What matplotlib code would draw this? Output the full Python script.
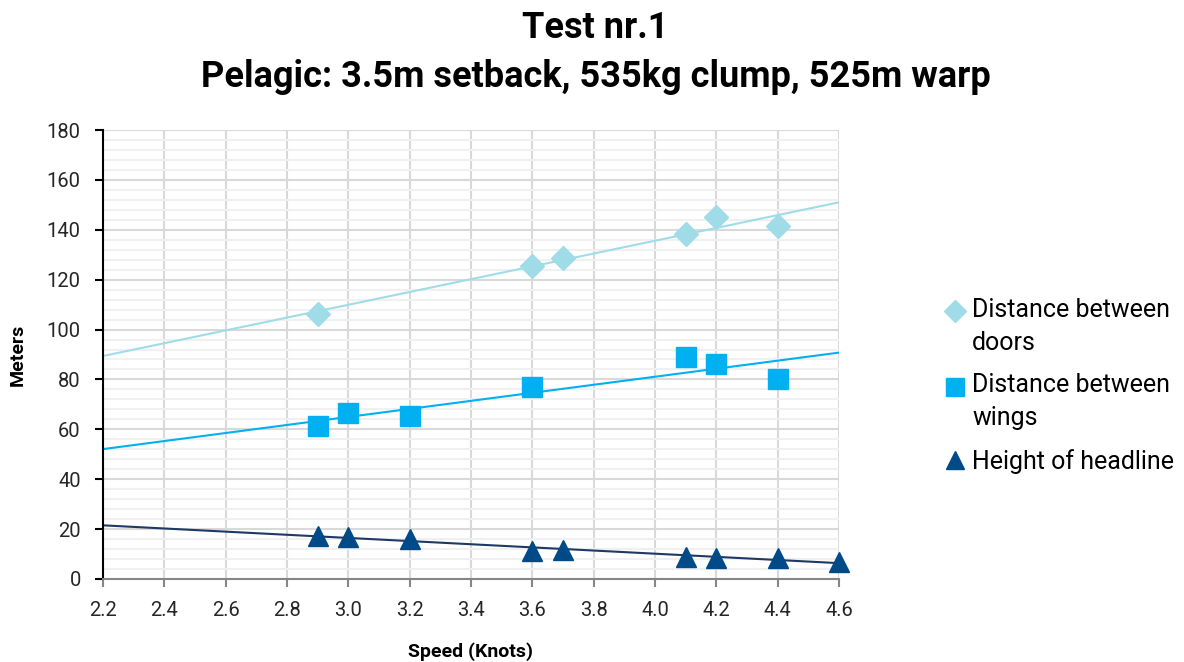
import numpy as np
import matplotlib

matplotlib.use("Agg")
import matplotlib.pyplot as plt  # noqa: E402
from matplotlib.legend_handler import HandlerLine2D  # noqa: E402
from matplotlib.ticker import MultipleLocator  # noqa: E402

plt.rcParams["font.family"] = ["Roboto", "DejaVu Sans"]

# === Datos ===
doors_speed = [2.9, 3.6, 3.7, 4.1, 4.2, 4.4]
doors_m = [106.3, 125.5, 128.7, 138.3, 145.1, 141.5]

wings_speed = [2.9, 3.0, 3.2, 3.6, 4.1, 4.2, 4.4]
wings_m = [61.3, 66.6, 65.4, 77.0, 89.0, 86.2, 80.2]

head_speed = [2.9, 3.0, 3.2, 3.6, 3.7, 4.1, 4.2, 4.4, 4.6]
head_m = [17.2, 17.0, 16.0, 11.3, 11.5, 8.8, 8.5, 8.5, 7.0]

series = [
    ("Distance between\ndoors", doors_speed, doors_m, "D", "#a0dce8", "#a0dce8", 12.5),
    ("Distance between\nwings", wings_speed, wings_m, "s", "#00b0f0", "#00b0f0", 14.5),
    ("Height of headline", head_speed, head_m, "^", "#004a87", "#1f3864", 15),
]


class RaisedMarkerHandler(HandlerLine2D):
    """Sube el marcador de la leyenda para alinearlo con la primera línea del texto."""

    def __init__(self, shift, **kwargs):
        super().__init__(**kwargs)
        self.shift = shift

    def create_artists(self, legend, orig_handle, xdescent, ydescent,
                       width, height, fontsize, trans):
        return super().create_artists(legend, orig_handle, xdescent,
                                      ydescent - self.shift, width, height,
                                      fontsize, trans)


fig = plt.figure(figsize=(11.84, 6.62), dpi=100)
ax = fig.add_axes([0.087, 0.1254, 0.6216, 0.6782])

x_fit = np.array([2.2, 4.6])
handler_map = {}
for label, xs, ys, marker, color, line_color, size in series:
    slope, intercept = np.polyfit(xs, ys, 1)
    ax.plot(x_fit, slope * x_fit + intercept, color=line_color, lw=1.5, zorder=2)
    (points,) = ax.plot(xs, ys, linestyle="none", marker=marker, ms=size,
                        color=color, label=label, zorder=3, clip_on=False)
    if "\n" in label:
        handler_map[points] = RaisedMarkerHandler(shift=23)

ax.set_xlim(2.2, 4.6)
ax.set_ylim(0, 180)
ax.xaxis.set_major_locator(MultipleLocator(0.2))
ax.yaxis.set_major_locator(MultipleLocator(20))
ax.yaxis.set_minor_locator(MultipleLocator(4))
ax.xaxis.set_major_formatter(plt.FuncFormatter(lambda v, p: f"{v:.1f}"))

ax.grid(True, which="major", color="#d9d9d9", lw=1.5, zorder=0)
ax.grid(True, which="minor", axis="y", color="#f0f0f0", lw=1.5, zorder=0)
ax.set_axisbelow(True)

for side in ("top", "right"):
    ax.spines[side].set_visible(False)
ax.spines["left"].set_color("black")
ax.spines["left"].set_linewidth(1.5)
ax.spines["bottom"].set_color("#868686")
ax.spines["bottom"].set_linewidth(1.5)

ax.tick_params(axis="y", which="major", length=6, width=1.5, color="black",
               labelsize=14.5, labelcolor="#262626", pad=10)
ax.tick_params(axis="y", which="minor", length=0)
ax.tick_params(axis="x", which="major", length=6, width=1.5, color="#868686",
               labelsize=14.5, labelcolor="#262626", pad=10)

ax.set_xlabel("Speed (Knots)", fontsize=14, fontweight="bold", labelpad=16)
ax.set_ylabel("Meters", fontsize=14, fontweight="bold", labelpad=14)

fig.suptitle("Test nr.1\nPelagic: 3.5m setback, 535kg clump, 525m warp",
             x=0.503, y=0.985, fontsize=26, fontweight="bold", linespacing=1.45)

leg = ax.legend(loc="center left", bbox_to_anchor=(1.115, 0.43), frameon=False,
                fontsize=18, handlelength=0.7, handletextpad=0.35,
                labelspacing=0.75, markerscale=0.9, handler_map=handler_map)
for text in leg.get_texts():
    text.set_linespacing(1.45)

fig.savefig("out.png", dpi=100)
plt.close(fig)
